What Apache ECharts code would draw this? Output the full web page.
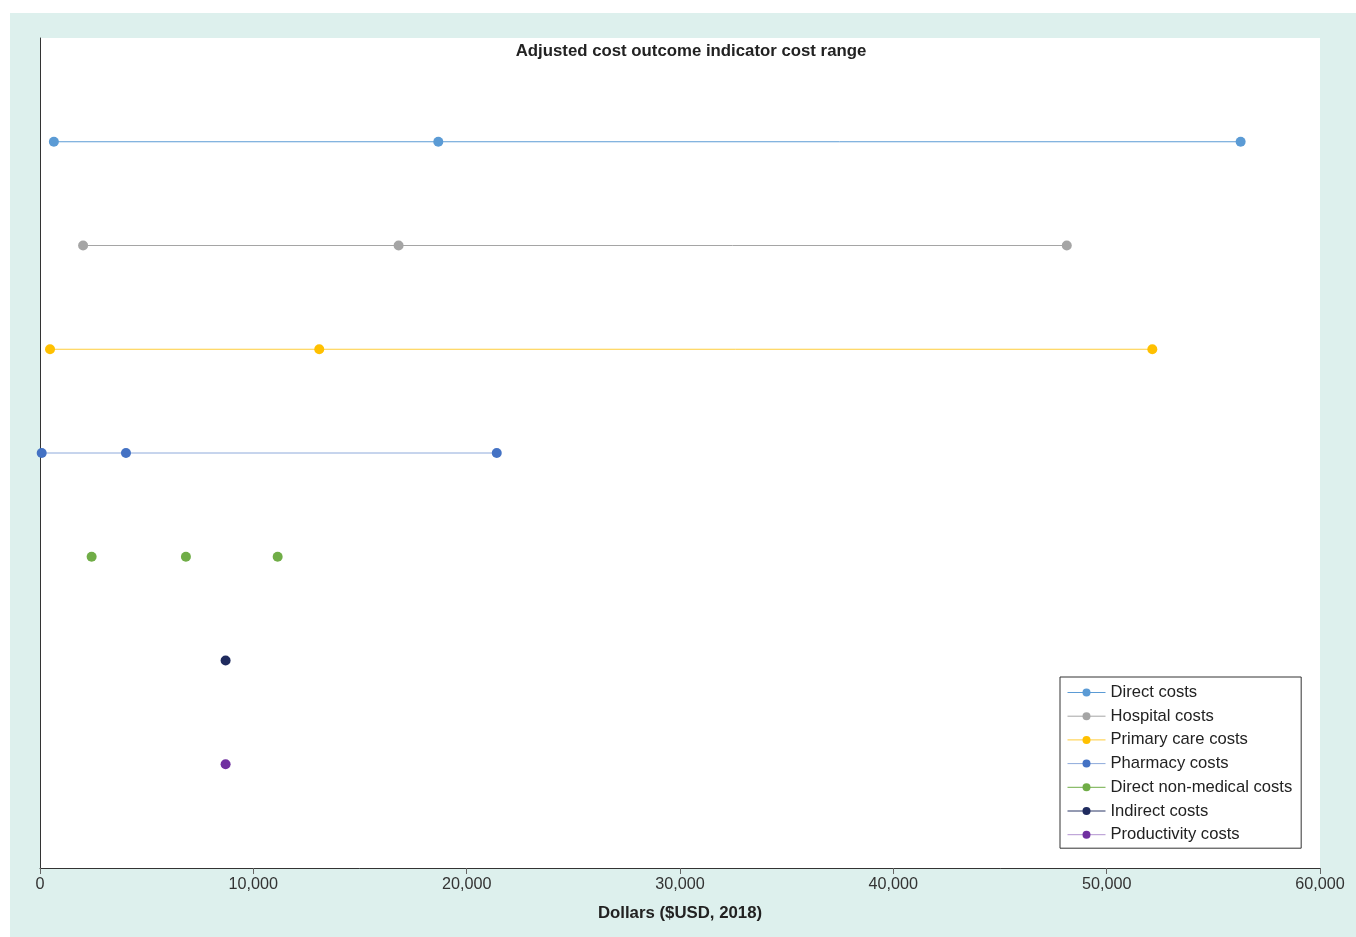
<!DOCTYPE html>
<html>
<head>
<meta charset="utf-8">
<script src="https://cdn.jsdelivr.net/npm/echarts@6/dist/echarts.min.js"></script>
<style>
  html, body { margin: 0; padding: 0; background: #ffffff; }
  #bg { position: absolute; left: 10px; top: 13px; width: 1346px; height: 924px; background: #ddf0ed; }
  #chart { position: absolute; left: 0; top: 0; width: 1356px; height: 937px; }
</style>
</head>
<body>
<div id="bg"></div>
<div id="chart"></div>
<script>
const seriesNames = ['Direct costs', 'Hospital costs', 'Primary care costs', 'Pharmacy costs', 'Direct non-medical costs', 'Indirect costs', 'Productivity costs'];
const directCosts = [650, 18670, 56280];
const hospitalCosts = [2020, 16810, 48130];
const primaryCareCosts = [470, 13090, 52140];
const pharmacyCosts = [80, 4030, 21410];
const directNonMedicalCosts = [2420, 6840, 11140];
const indirectCosts = [8700];
const productivityCosts = [8700];
const xTicks = [0, 10000, 20000, 30000, 40000, 50000, 60000];

const values = [directCosts, hospitalCosts, primaryCareCosts, pharmacyCosts, directNonMedicalCosts, indirectCosts, productivityCosts];
const dotColors = ['#5b9bd5', '#a5a5a5', '#ffc000', '#4472c4', '#70ad47', '#1f2b5e', '#7030a0'];
const lineColors = ['#5b9bd5', '#a5a5a5', '#ffcd3a', '#8eaadb', '#70ad47', '#2a3766', '#b293d0'];
const showLine = [true, true, true, true, false, true, true];
const FONT = '"Liberation Sans", Arial, Helvetica, sans-serif';

const chart = echarts.init(document.getElementById('chart'), null, { renderer: 'canvas' });

const series = seriesNames.map((name, i) => ({
  name: name,
  type: 'line',
  data: values[i].map(v => [v, i + 1]),
  symbol: 'circle',
  symbolSize: 10,
  showSymbol: true,
  itemStyle: { color: dotColors[i] },
  lineStyle: { color: lineColors[i], width: showLine[i] ? 1 : 0, opacity: showLine[i] ? 1 : 0 },
  emphasis: { disabled: true },
  animation: false,
  z: 3
}));

chart.setOption({
  backgroundColor: 'transparent',
  animation: false,
  title: {
    text: 'Adjusted cost outcome indicator cost range',
    left: 686,
    top: 38,
    textAlign: 'center',
    textStyle: { fontFamily: FONT, fontSize: 16.8, fontWeight: 'bold', color: '#222' }
  },
  grid: {
    left: 40, right: 36, top: 38, bottom: 69,
    show: true, backgroundColor: '#ffffff', borderWidth: 0
  },
  xAxis: {
    type: 'value',
    position: 'bottom',
    min: 0, max: 60000, interval: 10000,
    name: 'Dollars ($USD, 2018)',
    nameLocation: 'middle',
    nameGap: 37,
    nameTextStyle: { fontFamily: FONT, fontSize: 16.8, fontWeight: 'bold', color: '#222' },
    axisLine: { show: true, onZero: false, lineStyle: { color: '#333', width: 1 } },
    axisTick: { show: true, length: 6, inside: false, lineStyle: { color: '#666' } },
    axisLabel: {
      fontFamily: FONT, fontSize: 16.2, color: '#333', margin: 9,
      formatter: v => xTicks.includes(v) ? v.toLocaleString('en-US') : ''
    },
    splitLine: { show: false }
  },
  yAxis: {
    type: 'value',
    min: 0, max: 8, inverse: true,
    axisLine: { show: true, onZero: false, lineStyle: { color: '#333', width: 1 } },
    axisTick: { show: false },
    axisLabel: { show: false },
    splitLine: { show: false }
  },
  legend: {
    orient: 'vertical',
    left: 1060,
    top: 677,
    padding: [7, 9, 5, 7],
    borderColor: '#333',
    borderWidth: 1,
    backgroundColor: '#ffffff',
    itemWidth: 38,
    itemHeight: 10,
    itemGap: 6.7,
    selectedMode: false,
    textStyle: { fontFamily: FONT, fontSize: 16.6, color: '#222' },
    data: seriesNames.map((n, i) => ({
      name: n,
      itemStyle: { color: dotColors[i] },
      lineStyle: { color: lineColors[i], width: 1, opacity: 1 }
    }))
  },
  series: series
});
</script>
</body>
</html>
